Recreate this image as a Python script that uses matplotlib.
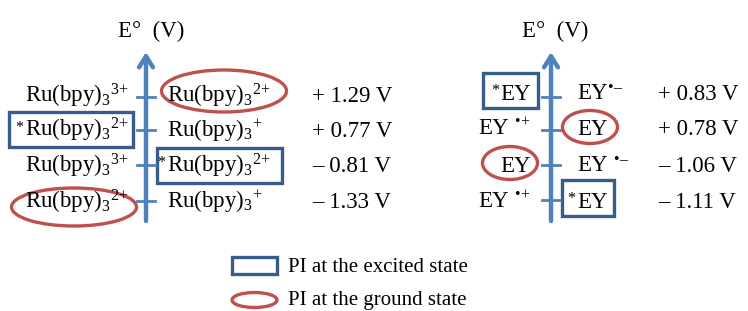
import matplotlib.pyplot as plt
from matplotlib.patches import Rectangle, Ellipse

plt.rcParams["font.family"] = ["Liberation Serif", "DejaVu Serif"]
plt.rcParams["mathtext.fontset"] = "custom"
plt.rcParams["mathtext.rm"] = "Liberation Serif"
plt.rcParams["mathtext.it"] = "Liberation Serif:italic"

# data
ru_ox = [r"Ru(bpy)$_3$$^{3\!+}$", r"*Ru(bpy)$_3$$^{2\!+}$", r"Ru(bpy)$_3$$^{3\!+}$", r"Ru(bpy)$_3$$^{2\!+}$"]
ru_red = [r"Ru(bpy)$_3$$^{2\!+}$", r"Ru(bpy)$_3$$^{+}$", r"*Ru(bpy)$_3$$^{2\!+}$", r"Ru(bpy)$_3$$^{+}$"]
ru_pot = [1.29, 0.77, -0.81, -1.33]
ey_ox = ["*EY", "EY $^{\u2022\\!+}$", "EY", "EY $^{\u2022\\!+}$"]
ey_red = ["EY$^{\u2022\u2013}$", "EY", "EY $^{\u2022\u2013}$", "*EY"]
ey_pot = [0.83, 0.78, -1.06, -1.11]

BLUE = "#4F81BD"
DARK = "#385D8A"
RED = "#C0504D"
FS = 16.5

fig = plt.figure(figsize=(7.48, 3.11), dpi=100)
ax = fig.add_axes([0, 0, 1, 1])
ax.set_xlim(0, 748)
ax.set_ylim(311, 0)
ax.axis("off")


def fmt(v):
    return ("+ " if v > 0 else "\u2013 ") + f"{abs(v):.2f} V"


def label(x, y, s, ha):
    # leading "*" is drawn as a small superscript hanging in front of the label
    if s.startswith("*"):
        s = s[1:]
        if ha == "left":
            ax.text(x, y, r"$^*$", ha="right", va="baseline", fontsize=FS)
        else:
            t = ax.text(x, y, s, ha="right", va="baseline", fontsize=FS)
            fig.canvas.draw()
            bb = t.get_window_extent()
            x0 = ax.transData.inverted().transform((bb.x0, bb.y0))[0]
            ax.text(x0, y, r"$^*$", ha="right", va="baseline", fontsize=FS)
            return
    ax.text(x, y, s, ha=ha, va="baseline", fontsize=FS)


def panel(x0, ox, red, pot, ticks, base, lx, rx, vx, title_x, boxes, ells):
    ax.text(title_x, 37, "E\u00b0  (V)", ha="left", va="baseline", fontsize=FS)
    ax.annotate("", xy=(x0, 52), xytext=(x0, 221),
                arrowprops=dict(arrowstyle="->,head_length=0.8,head_width=0.5",
                                color=BLUE, lw=3.2, shrinkA=0, shrinkB=0))
    for i in range(len(pot)):
        ax.plot([x0 - 9, x0 + 9], [ticks[i], ticks[i]], color=BLUE, lw=2)
        label(lx, base[i], ox[i], "right")
        label(rx, base[i], red[i], "left")
        ax.text(vx, base[i], fmt(pot[i]), ha="left", va="baseline", fontsize=FS)
    for bx0, by0, bx1, by1 in boxes:
        ax.add_patch(Rectangle((bx0, by0), bx1 - bx0, by1 - by0, fill=False,
                               ec=DARK, lw=2.4))
    for cx, cy, w, h in ells:
        ax.add_patch(Ellipse((cx, cy), w, h, fill=False, ec=RED, lw=2.4))


panel(146, ru_ox, ru_red, ru_pot,
      ticks=[97, 130, 165, 201], base=[102, 137, 172, 208],
      lx=129, rx=167, vx=312, title_x=118,
      boxes=[(9, 112, 133, 147), (157, 148, 282, 183)],
      ells=[(224, 91, 125, 42), (74, 207, 125, 38)])

panel(551, ey_ox, ey_red, ey_pot,
      ticks=[97, 130, 165, 200], base=[100, 135, 172, 208],
      lx=531, rx=577, vx=658, title_x=522,
      boxes=[(483, 73, 538, 108), (562, 180, 614, 216)],
      ells=[(590, 127, 55, 33), (510, 163, 55, 33)])

# legend
ax.add_patch(Rectangle((232, 257), 45, 17, fill=False, ec=DARK, lw=2.4))
ax.text(288, 272, "PI at the excited state", ha="left", va="baseline", fontsize=15)
ax.add_patch(Ellipse((254.5, 300), 45, 15, fill=False, ec=RED, lw=2.4))
ax.text(288, 305, "PI at the ground state", ha="left", va="baseline", fontsize=15)

fig.savefig("out.png", dpi=100)
